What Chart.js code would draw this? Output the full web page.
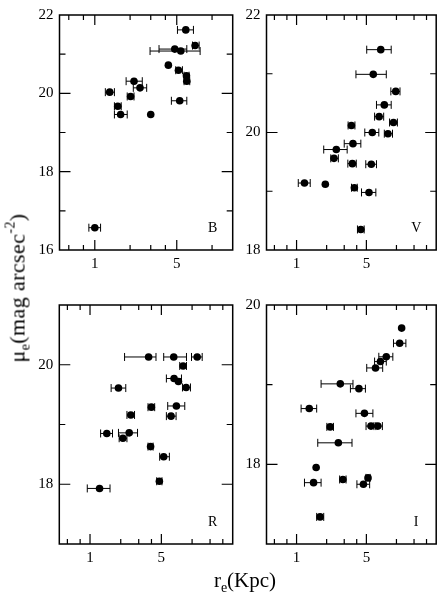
<!DOCTYPE html>
<html><head><meta charset="utf-8">
<script src="https://cdn.jsdelivr.net/npm/chart.js@4.4.0/dist/chart.umd.min.js"></script>
<style>
html,body{margin:0;padding:0;background:#fff;}
body{width:440px;height:599px;position:relative;overflow:hidden;font-family:"Liberation Serif","Times New Roman",serif;color:#000;}
.pw{position:absolute;}
.pw canvas{display:block;}
#yt{position:absolute;left:18px;top:288px;transform:translate(-50%,-50%) rotate(-90deg);white-space:nowrap;font-size:22px;line-height:1;letter-spacing:0.4px;}
#xt{position:absolute;left:245px;top:582px;transform:translate(-50%,-50%);white-space:nowrap;font-size:21px;line-height:1;}
.sb{font-size:14px;vertical-align:-5px;}
.sp{font-size:14px;vertical-align:10px;}
</style></head><body>
<div class="pw" style="left:0;top:0;"><canvas id="cB" width="240" height="290"></canvas></div>
<div class="pw" style="left:210px;top:0;"><canvas id="cV" width="230" height="290"></canvas></div>
<div class="pw" style="left:0;top:290px;"><canvas id="cR" width="240" height="309"></canvas></div>
<div class="pw" style="left:210px;top:290px;"><canvas id="cI" width="230" height="309"></canvas></div>
<div id="yt">μ<span class="sb">e</span>(mag arcsec<span class="sp">-2</span>)</div>
<div id="xt">r<span class="sb">e</span>(Kpc)</div>
<script>
// ---- data (r_e in kpc, mu_e in mag arcsec^-2, error-bar ends in kpc) ----
const bandNames = ['B', 'V', 'R', 'I'];

const rB   = [5.97, 7.17, 4.81, 5.41, 4.24, 5.17, 6.05, 6.09, 2.16, 2.43, 1.34, 2.02, 5.30, 1.57, 1.66, 3.00, 1.00];
const muB  = [21.62, 21.22, 21.13, 21.08, 20.72, 20.59, 20.45, 20.31, 20.31, 20.14, 20.03, 19.92, 19.81, 19.67, 19.46, 19.46, 16.57];
const loB  = [5.07, 6.81, 3.53, 2.96, null, 4.90, 5.77, 5.77, 1.85, 2.13, 1.23, 1.89, 4.50, 1.47, 1.47, null, 0.89];
const hiB  = [6.94, 7.76, 6.09, 7.91, null, 5.59, 6.37, 6.45, 2.54, 2.77, 1.47, 2.16, 6.09, 1.68, 1.89, null, 1.12];

const rV   = [6.96, 5.86, 9.84, 7.56, 6.71, 3.54, 9.34, 5.73, 8.22, 3.67, 2.50, 2.37, 3.62, 5.60, 1.20, 1.94, 3.79, 5.31, 4.40];
const muV  = [21.41, 20.99, 20.70, 20.47, 20.27, 20.12, 20.17, 20.00, 19.98, 19.81, 19.71, 19.56, 19.47, 19.46, 19.14, 19.12, 19.06, 18.98, 18.35];
const loV  = [5.04, 3.93, 8.79, 6.31, 6.04, 3.28, 8.53, 4.82, 7.56, 3.00, 1.87, 2.20, 3.26, 4.93, 1.04, null, 3.55, 4.47, 4.07];
const hiV  = [8.86, 7.91, 10.85, 8.86, 7.45, 3.84, 10.22, 6.66, 9.13, 4.40, 3.21, 2.62, 3.96, 6.31, 1.37, null, 4.05, 6.22, 4.75];

const rR   = [3.75, 6.61, 11.22, 8.17, 6.66, 7.35, 8.74, 1.90, 7.02, 3.99, 2.51, 6.22, 1.46, 2.42, 2.10, 3.92, 5.27, 4.78, 1.24];
const muR  = [20.13, 20.13, 20.13, 19.98, 19.77, 19.72, 19.62, 19.61, 19.31, 19.29, 19.16, 19.14, 18.85, 18.86, 18.77, 18.63, 18.46, 18.05, 17.93];
const loR  = [2.18, 5.27, 9.87, 7.57, 5.60, null, 8.05, 1.61, 5.77, 3.70, 2.30, 5.60, 1.27, 1.90, 1.93, 3.70, 4.81, 4.50, 0.94];
const hiR  = [4.43, 8.81, 12.56, 8.81, 7.87, null, 9.64, 2.24, 8.48, 4.30, 2.73, 6.97, 1.66, 2.92, 2.30, 4.15, 5.99, 5.07, 1.57];

const rI   = [11.27, 10.77, 7.91, 6.91, 6.17, 2.74, 4.21, 1.34, 4.78, 2.17, 5.56, 6.51, 2.62, 1.57, 1.48, 2.91, 5.19, 4.67, 1.72];
const muI  = [19.71, 19.52, 19.35, 19.29, 19.21, 19.01, 18.95, 18.70, 18.64, 18.47, 18.48, 18.48, 18.27, 17.96, 17.77, 17.81, 17.83, 17.75, 17.34];
const loI  = [null, 9.34, 6.66, 6.04, 5.04, 1.76, 3.46, 1.11, 3.93, 2.01, 4.96, 5.95, 1.63, null, 1.20, 2.70, 4.95, 4.02, 1.59];
const hiI  = [null, 12.43, 9.20, 7.91, 7.28, 3.67, 4.89, 1.59, 5.81, 2.34, 6.22, 7.23, 3.59, null, 1.76, 3.13, 5.45, 5.39, 1.87];

// ---- axis ticks ----
const xMajorTicks = [1, 5];
const xMinorTicks = [0.6, 0.8, 2, 3, 4, 10, 15, 20];
const yMajorB = [16, 18, 20, 22], yMinorB = [17, 19, 21];
const yMajorV = [18, 20, 22],     yMinorV = [19, 21];
const yMajorR = [18, 20],         yMinorR = [19];
const yMajorI = [18, 20],         yMinorI = [19];

const FONT = {family: 'Liberation Serif', size: 15};

function panelPlugin(r, mu, lo, hi, yMajor, yMinor, letter) {
  return {
    id: 'panel' + letter,
    beforeDatasetsDraw(chart) {
      const {ctx, scales: {x, y}} = chart;
      ctx.save();
      ctx.strokeStyle = '#000';
      ctx.lineWidth = 1;
      for (let i = 0; i < r.length; i++) {
        if (lo[i] == null) continue;
        const py = y.getPixelForValue(mu[i]);
        const x1 = x.getPixelForValue(lo[i]);
        const x2 = x.getPixelForValue(hi[i]);
        ctx.beginPath();
        ctx.moveTo(x1, py); ctx.lineTo(x2, py);
        ctx.moveTo(x1, py - 4); ctx.lineTo(x1, py + 4);
        ctx.moveTo(x2, py - 4); ctx.lineTo(x2, py + 4);
        ctx.stroke();
      }
      ctx.restore();
    },
    afterDatasetsDraw(chart) {
      const {ctx, chartArea: a, scales: {x, y}} = chart;
      ctx.save();
      ctx.strokeStyle = '#000';
      ctx.lineWidth = 1.2;
      ctx.beginPath();
      const xt = (vals, len) => vals.forEach(v => {
        if (v <= x.min || v >= x.max) return;
        const px = x.getPixelForValue(v);
        ctx.moveTo(px, a.bottom); ctx.lineTo(px, a.bottom - len);
        ctx.moveTo(px, a.top); ctx.lineTo(px, a.top + len);
      });
      const yt = (vals, len) => vals.forEach(v => {
        if (v <= y.min || v >= y.max) return;
        const py = y.getPixelForValue(v);
        ctx.moveTo(a.left, py); ctx.lineTo(a.left + len, py);
        ctx.moveTo(a.right, py); ctx.lineTo(a.right - len, py);
      });
      xt(xMajorTicks, 10); xt(xMinorTicks, 5);
      yt(yMajor, 11); yt(yMinor, 6);
      ctx.stroke();
      ctx.lineWidth = 1.5;
      ctx.strokeRect(a.left, a.top, a.right - a.left, a.bottom - a.top);
      ctx.fillStyle = '#000';
      ctx.font = '14px "Liberation Serif"';
      ctx.textAlign = 'center';
      ctx.textBaseline = 'middle';
      ctx.fillText(letter, a.right - 20, a.bottom - 21.5);
      ctx.restore();
    }
  };
}

function makePanel(id, r, mu, lo, hi, xMax, yMin, yMax, yMajor, yMinor, letter, pad, yW) {
  new Chart(document.getElementById(id), {
    type: 'scatter',
    data: {datasets: [{
      data: r.map((v, i) => ({x: v, y: mu[i]})),
      backgroundColor: '#000', borderColor: '#000', borderWidth: 0,
      pointRadius: 3.8, pointHoverRadius: 3.8
    }]},
    options: {
      responsive: false, animation: false, devicePixelRatio: 1,
      events: [],
      layout: {padding: pad},
      plugins: {legend: {display: false}, tooltip: {enabled: false}},
      scales: {
        x: {
          type: 'logarithmic', min: 0.5, max: xMax,
          grid: {display: false, drawTicks: false}, border: {display: false},
          afterBuildTicks: s => { s.ticks = xMajorTicks.map(v => ({value: v})); },
          afterFit: s => { s.height = 30; },
          ticks: {callback: v => String(v), font: FONT, color: '#000', padding: 5,
                  maxRotation: 0, autoSkip: false}
        },
        y: {
          type: 'linear', min: yMin, max: yMax,
          grid: {display: false, drawTicks: false}, border: {display: false},
          afterBuildTicks: s => { s.ticks = yMajor.map(v => ({value: v})); },
          afterFit: s => { s.width = yW; },
          ticks: {callback: v => String(v), font: FONT, color: '#000', padding: 6, autoSkip: false}
        }
      }
    },
    plugins: [panelPlugin(r, mu, lo, hi, yMajor, yMinor, letter)]
  });
}

makePanel('cB', rB, muB, loB, hiB, 15, 16, 22, yMajorB, yMinorB, bandNames[0],
          {top: 5, right: 7.3, bottom: 10, left: 0}, 59.5);
makePanel('cV', rV, muV, loV, hiV, 25, 18, 22, yMajorV, yMinorV, bandNames[1],
          {top: 5, right: 1, bottom: 10, left: 0}, 56.5);
makePanel('cR', rR, muR, loR, hiR, 25, 17, 21, yMajorR, yMinorR, bandNames[2],
          {top: 9.3, right: 7.3, bottom: 25, left: 0}, 59.3);
makePanel('cI', rI, muI, loI, hiI, 25, 17, 20, yMajorI, yMinorI, bandNames[3],
          {top: 10, right: 1, bottom: 25, left: 0}, 56.5);
</script>
</body></html>
